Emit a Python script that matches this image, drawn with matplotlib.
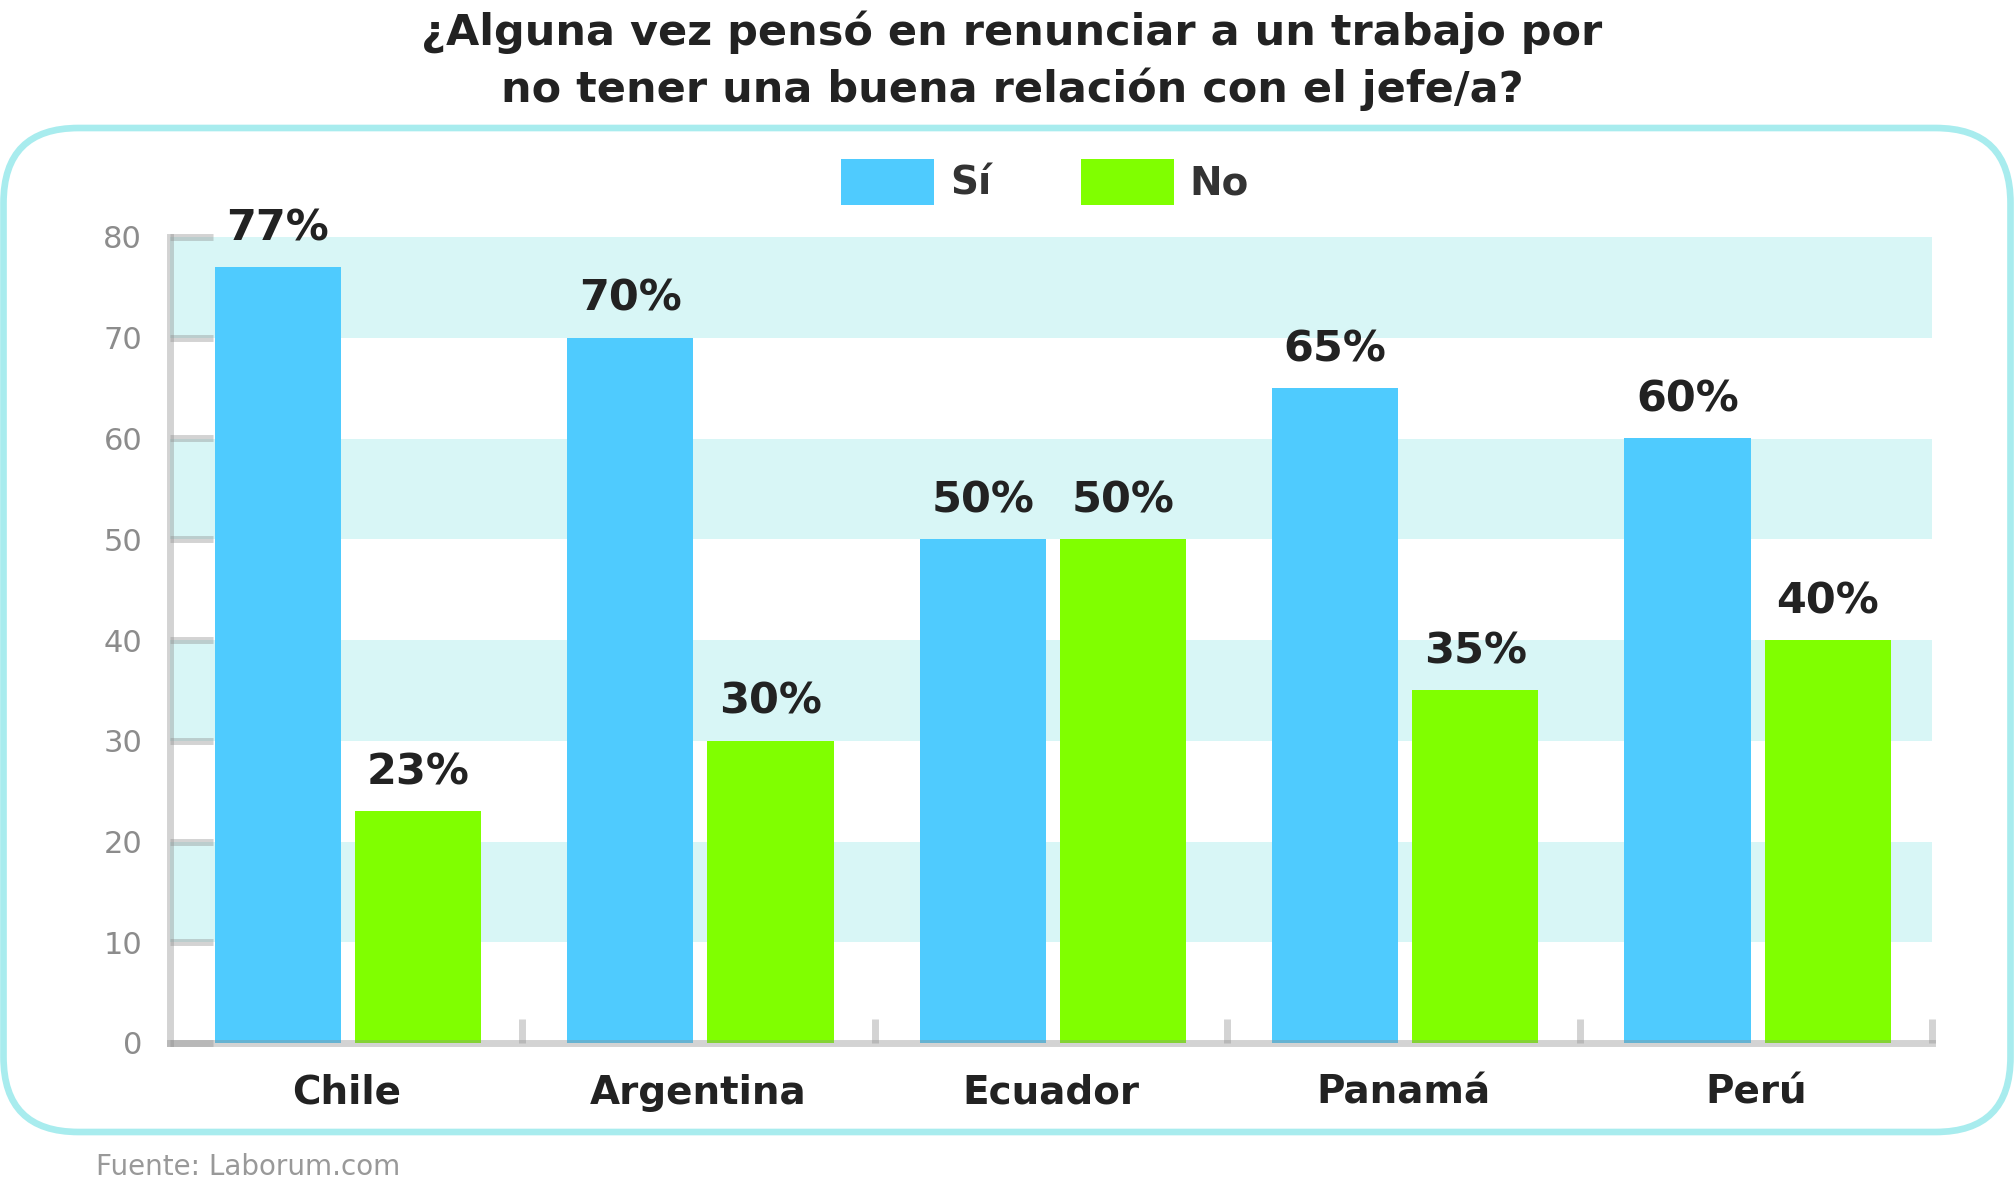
import numpy as np
import matplotlib.pyplot as plt
from matplotlib.patches import FancyBboxPatch, Patch

# --- data
paises = ["Chile", "Argentina", "Ecuador", "Panamá", "Perú"]
si_vals = [77, 70, 50, 65, 60]
no_vals = [23, 30, 50, 35, 40]
y_ticks = list(range(0, 81, 10))
bandas = [(10, 20), (30, 40), (50, 60), (70, 80)]

titulo = "¿Alguna vez pensó en renunciar a un trabajo por\nno tener una buena relación con el jefe/a?"
fuente = "Fuente: Laborum.com"

azul = "#4fcbfe"
verde = "#80ff00"
banda = "#d8f6f6"
borde = "#a8ecee"
gris_eje = (0.55, 0.55, 0.55, 0.38)

fig = plt.figure(figsize=(20.14, 11.93), dpi=100)
ax = fig.add_axes([170 / 2014, 1 - 1043 / 1193, (1932 - 170) / 2014, (1043 - 237) / 1193])

# rounded frame around the chart
frame = FancyBboxPatch((0.035, 0.61), 20.07, 10.04, boxstyle="round,pad=0,rounding_size=0.75",
                       transform=fig.dpi_scale_trans, fc="none", ec=borde, lw=4.8, zorder=0)
fig.patches.append(frame)

for lo, hi in bandas:
    ax.axhspan(lo, hi, color=banda, lw=0, zorder=0)

x = np.arange(len(paises))
b1 = ax.bar(x - 0.194, si_vals, width=0.358, color=azul, zorder=1)
b2 = ax.bar(x + 0.204, no_vals, width=0.358, color=verde, zorder=1)

for bars, vals in [(b1, si_vals), (b2, no_vals)]:
    for rect, v in zip(bars, vals):
        ax.annotate(f"{v}%", (rect.get_x() + rect.get_width() / 2, v),
                    xytext=(0, 28), textcoords="offset points", ha="center", va="center",
                    fontsize=31, fontweight="bold", color="#222222", annotation_clip=False)

ax.set_xlim(-0.5, len(paises) - 0.5)
ax.set_ylim(0, 80)
ax.set_yticks(y_ticks)
ax.tick_params(axis="y", direction="in", length=31, width=5, color=gris_eje, pad=20,
               labelsize=22, labelcolor="#8c8c8c")

ax.set_xticks(x)
ax.set_xticklabels(paises, fontsize=28, fontweight="bold", color="#222222")
ax.tick_params(axis="x", which="major", length=0, pad=22)
ax.set_xticks(np.arange(0.5, len(paises), 1), minor=True)
ax.tick_params(axis="x", which="minor", direction="in", length=17, width=5, color=gris_eje)

for s in ["top", "right"]:
    ax.spines[s].set_visible(False)
for s in ["left", "bottom"]:
    ax.spines[s].set_linewidth(5)
    ax.spines[s].set_color(gris_eje)
    ax.spines[s].set_zorder(5)

handles = [Patch(facecolor=azul, edgecolor="none", label="Sí"),
           Patch(facecolor=verde, edgecolor="none", label="No")]
leg = fig.legend(handles=handles, loc="center left", bbox_to_anchor=(841 / 2014, 1 - 182 / 1193),
                 ncol=2, frameon=False, fontsize=28, handlelength=2.4, handleheight=1.41,
                 handletextpad=0.4, columnspacing=2.3, borderpad=0, borderaxespad=0)
for t in leg.get_texts():
    t.set_fontweight("bold")
    t.set_color("#333333")

fig.text(1012 / 2014, 1 - 61 / 1193, titulo, ha="center", va="center", fontsize=31,
         fontweight="bold", color="#222222", linespacing=1.4)
fig.text(96 / 2014, 1 - 1167 / 1193, fuente, ha="left", va="center", fontsize=20, color="#999999")

fig.savefig("out.png", dpi=100)
